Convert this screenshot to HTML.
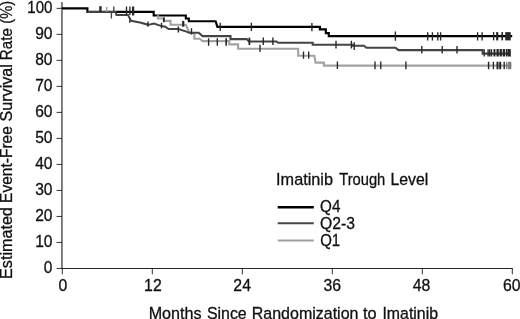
<!DOCTYPE html>
<html><head><meta charset="utf-8">
<style>
html,body{margin:0;padding:0;background:#fff;}
body{width:520px;height:319px;overflow:hidden;}
svg{display:block;}
text{font-family:"Liberation Sans",sans-serif;font-size:16.3px;fill:#111;stroke:#111;stroke-width:0.3px;}
</style></head><body>
<svg style="transform:translateZ(0);will-change:transform" width="520" height="319" viewBox="0 0 520 319">
<rect width="520" height="319" fill="#fff"/>
<!-- axes -->
<g stroke="#262626" stroke-width="1.15" fill="none">
<path d="M61.95,2 V268.45 H512.8"/>
<path stroke-width="0.95" d="M56.6,8.35H62 M56.6,34.36H62 M56.6,60.37H62 M56.6,86.38H62 M56.6,112.39H62 M56.6,138.40H62 M56.6,164.41H62 M56.6,190.42H62 M56.6,216.43H62 M56.6,242.44H62 M56.6,268.45H62"/>
<path stroke-width="0.95" d="M62.3,268.3V274.3 M152.3,268.3V274.3 M242.3,268.3V274.3 M332.3,268.3V274.3 M422.3,268.3V274.3 M512.3,268.3V274.3"/>
</g>
<!-- y labels -->
<!-- text -->
<g>
<text transform="translate(27.30,12.75) scale(0.9250,1)">100</text>
<text transform="translate(35.17,38.76) scale(0.9550,1)">90</text>
<text transform="translate(35.17,64.77) scale(0.9550,1)">80</text>
<text transform="translate(35.17,90.78) scale(0.9550,1)">70</text>
<text transform="translate(35.17,116.79) scale(0.9550,1)">60</text>
<text transform="translate(35.17,142.80) scale(0.9550,1)">50</text>
<text transform="translate(35.17,168.81) scale(0.9550,1)">40</text>
<text transform="translate(35.17,194.82) scale(0.9550,1)">30</text>
<text transform="translate(35.17,220.83) scale(0.9550,1)">20</text>
<text transform="translate(35.17,246.84) scale(0.9550,1)">10</text>
<text transform="translate(43.87,272.85) scale(0.9500,1)">0</text>
<text transform="translate(58.50,291.40) scale(0.9700,1)">0</text>
<text transform="translate(144.11,291.40) scale(0.9700,1)">12</text>
<text transform="translate(233.36,291.40) scale(0.9700,1)">24</text>
<text transform="translate(323.55,291.40) scale(0.9700,1)">36</text>
<text transform="translate(412.75,291.40) scale(0.9700,1)">48</text>
<text transform="translate(502.91,291.40) scale(0.9700,1)">60</text>
<text transform="translate(148.66,319.00) scale(0.9923,1)">Months</text>
<text transform="translate(206.88,319.00) scale(0.9778,1)">Since</text>
<text transform="translate(251.77,319.00) scale(0.9821,1)">Randomization</text>
<text transform="translate(363.07,319.00) scale(1.0012,1)">to</text>
<text transform="translate(382.44,319.00) scale(0.9743,1)">Imatinib</text>
<text transform="translate(276.10,185.00) scale(0.9980,1)">Imatinib</text>
<text transform="translate(339.21,185.00) scale(0.9040,1)">Trough</text>
<text transform="translate(390.38,185.00) scale(0.9748,1)">Level</text>
<text transform="translate(320.11,211.70) scale(0.9352,1)">Q4</text>
<text transform="translate(320.09,228.60) scale(0.9658,1)">Q2-3</text>
<text transform="translate(320.13,245.80) scale(0.9196,1)">Q1</text>
<text transform="translate(12.45,278.94) rotate(-90) scale(0.9909,1)">Estimated</text>
<text transform="translate(12.45,202.89) rotate(-90) scale(0.9529,1)">Event-Free</text>
<text transform="translate(12.45,121.43) rotate(-90) scale(0.9878,1)">Survival</text>
<text transform="translate(12.45,60.15) rotate(-90) scale(0.9276,1)">Rate</text>
<text transform="translate(12.45,23.74) rotate(-90) scale(0.8980,1)">(%)</text>
</g>
<!-- legend -->
<path d="M277.7,207.3H313.8" stroke="#000" stroke-width="2.4"/>
<path d="M277.7,223.3H313.8" stroke="#484848" stroke-width="2.1"/>
<path d="M277.7,240.6H313.8" stroke="#a0a0a0" stroke-width="2"/>
<!-- curves -->
<g fill="none" stroke-linejoin="miter">
<path id="cb" stroke="#000" stroke-width="2.15" d="M62,8.35 H87.4 V11.9 H153.7 V15.5 H185.8 V18.5 H188.8 V21.2 H215.6 L217.4,26.9 H319.9 V29.3 H325.8 V33.1 H328.8 V36.1 H512.2"/>
<path id="cl" stroke="#a2a2a2" stroke-width="2.1" d="M157,16.3 H158 V18.5 H163.9 V20.9 H170.6 V24.75 H185.8 L189.1,32 L191,33.2 H194.4 V38.7 H199.7 L202.6,41.1 H229.3 V44.4 H238.1 V48.8 H298.2 V55.8 H314.4 L315.6,62.6 H323.9 V65.6 H511.3"/>
<path id="cd" stroke="#444" stroke-width="2.05" d="M87.4,11.9 H115.6 L116.5,14.9 H128 L131,20.8 L140,22.6 L147.7,24.6 L151,24.3 L154,23.6 L161.5,26.1 L165.3,26.8 L168.7,29 H178.3 L186.5,31.6 L189,32.8 H198.7 L202.6,36.1 H230.5 V39.1 H246.7 L249,41.4 H276.4 L278.2,42.8 H312.7 V44.65 H352.8 V45.8 H364 L366.4,47.7 H395.4 L398.5,50.1 H482.6 V53.6 H510.2"/>
</g>
<!-- ticks -->
<g stroke="#262626" stroke-width="1.35" fill="none">
<path stroke-width="2.4" d="M100.4,6.2V12"/>
<path stroke="#999" d="M106.7,7V12"/>
<path stroke="#444" d="M113.8,6.5V12 M111.4,12V18.5"/>
<path d="M126.5,6.5V15.3 M129.9,6.6V15"/>
<path stroke="#444" d="M129.7,18.3V23"/>
<path stroke-width="2.2" d="M133.1,6.5V15.5"/>
<path stroke-width="1.8" d="M163.9,17.5V22.3"/>
<path stroke-width="2.2" d="M183.2,20.9V26.7"/>
<path d="M147.9,21.4V26.7 M161.5,22.8V28.6 M178.3,26.5V32.4 M191.5,28.2V34.4"/>

<path d="M220.2,22.8V31.1 M251.4,22.7V31 M311.9,23V31.3 M395.4,31.6V40.7"/>
<path d="M208.6,38.2V45.8 M217.3,38.2V45.8"/><path stroke-width="1.6" d="M226.2,38.2V45.8"/>
<path stroke-width="1.8" d="M249.4,37.6V45"/>
<path d="M263.3,37.6V45 M272.9,37.6V45"/>
<path d="M260,44.8V52"/>
<path d="M336,40.8V48.4 M351.4,40.8V48.6 M354.2,42.2V50"/>
<path d="M303.5,51.4V58.8 M308.7,51.4V58.8"/>
<path d="M337.4,61.4V69 M375,61.4V69.2 M380.8,61.4V69.2 M405.9,61.4V69.2"/>
<path d="M427.7,32.2V40.4 M432.4,32.2V40.4 M437.8,32.2V40.4 M440.6,32.2V40.4 M477.6,32.2V40.4 M482.1,32.2V40.4"/>
<path d="M421.8,45.9V53.4 M442.2,45.9V53.4 M457,45.9V53.4"/>
<!-- right clusters -->
<path d="M493.6,32.1V40.4"/>
<path stroke-width="2.2" d="M497.2,32.1V40.4"/>
<path stroke-width="1.7" d="M502.2,32.1V40.4"/>
<path stroke-width="5.5" d="M507.95,32.1V40.4"/>
<path d="M484.2,49.2V56.5 M488.1,49.2V56.5 M489.7,49.2V56.5 M491.5,49.2V56.5"/>
<path stroke-width="1.9" d="M494.45,49.1V56.6 M506.75,49.1V56.6"/>
<path stroke-width="2.3" d="M497.65,49.1V56.6 M500.75,49.1V56.6 M503.85,49.1V56.6"/>
<path stroke-width="2.8" d="M509.4,49.1V56.6"/>
<path stroke-width="1.5" d="M488.6,61.8V69.2"/>
<path d="M493.4,61.8V69.2 M504.2,61.8V69.2"/>
<path stroke-width="2" d="M497.5,61.8V69.2 M500.2,61.8V69.2"/>
<path stroke="#777" d="M506.8,61.8V69.2"/>
<path stroke="#7a7a7a" stroke-width="3.2" d="M509.7,61.8V69.2"/>
</g>
</svg>
</body></html>
